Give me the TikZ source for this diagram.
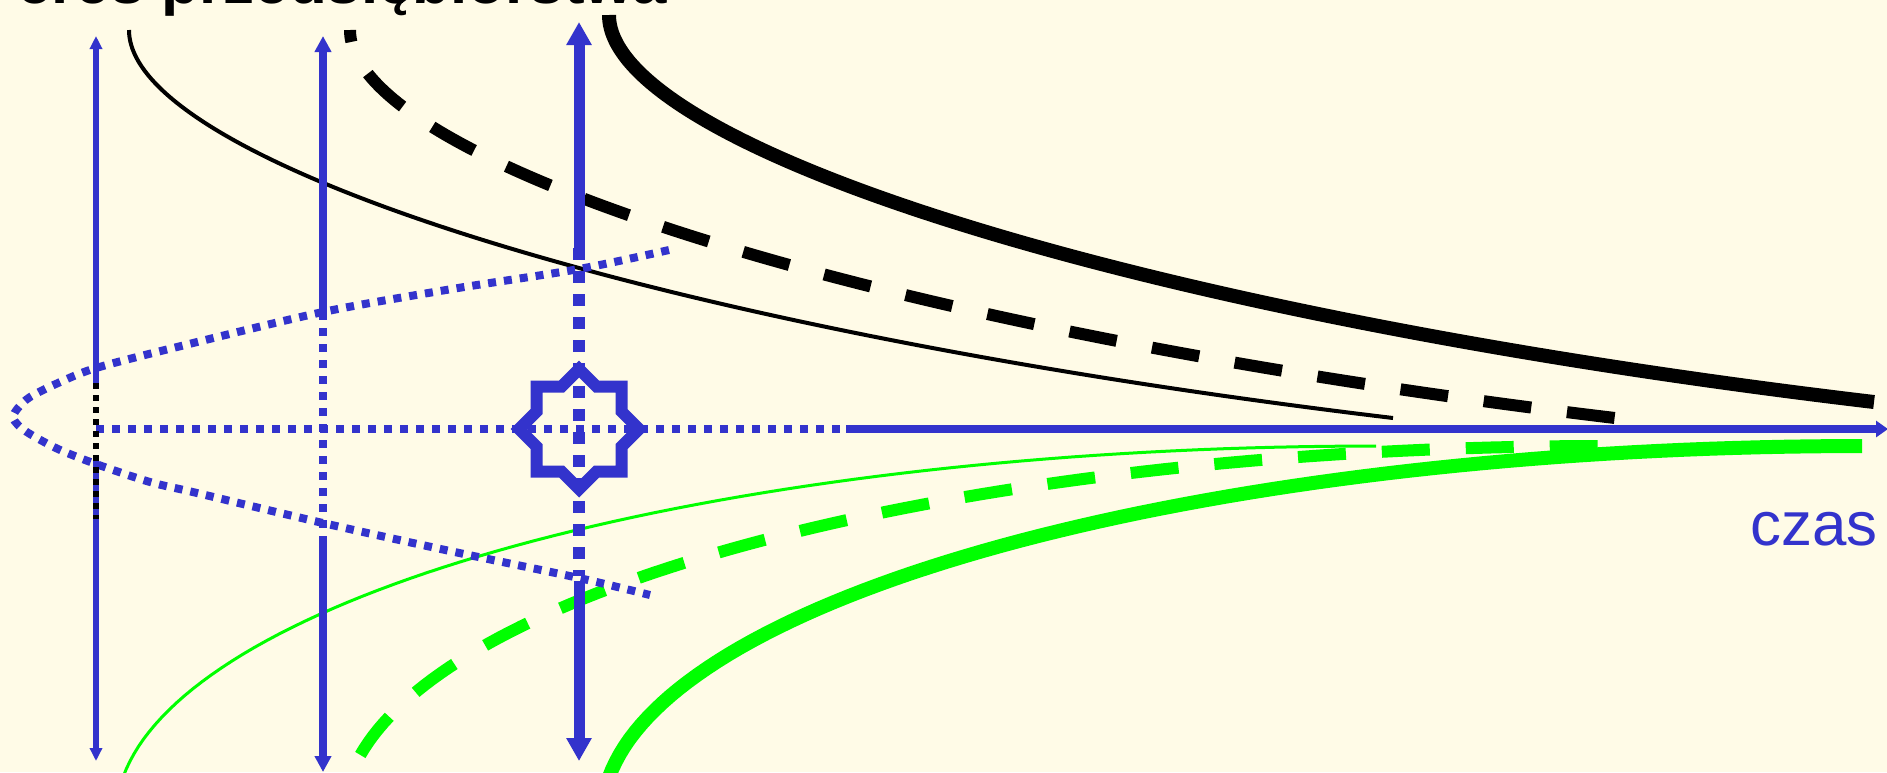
\documentclass[tikz,border=0pt]{standalone}
\usepackage{fontspec}
\setmainfont{Liberation Sans}
\usepackage{xcolor}
\usetikzlibrary{arrows.meta}
\definecolor{paper}{RGB}{255,251,231}
\definecolor{timeblue}{RGB}{51,51,204}
\definecolor{lifegreen}{RGB}{0,255,0}

\begin{document}
\begin{tikzpicture}[x=0.1mm, y=-0.1mm, line join=miter,
    thincurve/.style={line width=0.4mm},
    dashcurve/.style={line width=1.2mm, dash pattern=on 4.8mm off 3.6mm},
    thickcurve/.style={line width=1.4mm},
    bluedots/.style={draw=timeblue, line width=#1, dash pattern=on #1 off #1},
    armS/.style={draw=timeblue, line width=0.6mm, -{Triangle[width=1.2mm,length=1.3mm]}},
    armM/.style={draw=timeblue, line width=0.8mm, -{Triangle[width=1.6mm,length=1.6mm]}},
    armL/.style={draw=timeblue, line width=1.1mm, -{Triangle[width=2.4mm,length=2.3mm]}},
    label/.style={inner sep=0pt, anchor=base east, font=\fontsize{17.6pt}{20pt}\selectfont}]
    \useasboundingbox (0,0) rectangle (1887,772);
    \fill[paper] (0,0) rectangle (1887,772);
    \clip (0,0) rectangle (1887,772);

    \node[label, font=\fontsize{17.6pt}{20pt}\selectfont\bfseries] (title) at (668,3) {eres przedsiębiorstwa};
    \node[label, text=timeblue] (czas) at (1878,545) {czas};

    % decline curves (one shape, shifted)
    \draw[thincurve] (129,30) .. controls (129,160) and (643,328) .. (1393,418);
    \draw[dashcurve, dash phase=3.6mm] (350,30) .. controls (350,160) and (864,328) .. (1615,418);
    \draw[thickcurve] (609,15) .. controls (609,145) and (1123,313) .. (1874,402);

    % growth curves (elliptic arcs)
    \draw[lifegreen, line width=0.3mm] plot[domain=92:0, samples=80, variable=\t]
      ({1376-1260*sin(\t)}, {816-370*cos(\t)});
    \draw[lifegreen, dashcurve] plot[domain=80.5:0, samples=80, variable=\t]
      ({1603-1260*sin(\t)}, {816-370*cos(\t)});
    \draw[lifegreen, thickcurve] plot[domain=92:0, samples=80, variable=\t]
      ({1862-1260*sin(\t)}, {816-370*cos(\t)});

    % horizon
    \draw[bluedots=0.8mm] plot[smooth] coordinates {(669,250) (579,269) (452,289) (323,312) (181,346)
      (96,368) (58,383) (30,397) (18,408) (13,417) (18,425) (30,434) (58,449) (96,464) (150,482)
      (197,493) (323,523) (450,551) (579,578) (650,595)};

    % time axis
    \coordinate (ax0) at (96,429);
    \coordinate (axgap) at (841,429);
    \coordinate (axsolid) at (846,429);
    \coordinate (axend) at (1888,429);
    \draw[bluedots=0.8mm] (ax0) -- (axgap);
    \draw[armM, -{Triangle[width=1.6mm,length=1.2mm]}] (axsolid) -- (axend);

    % vertical arrows
    \coordinate (a1top) at (96,36);
    \coordinate (a1brk) at (96,385);
    \coordinate (a1low) at (96,460);
    \coordinate (a1bot) at (96,761);
    \draw[armS] (a1brk) -- (a1top);
    \draw[armS] (a1low) -- (a1bot);
    \draw[black, line width=0.6mm, dash pattern=on 0.6mm off 0.6mm] (96,383) -- (96,519);

    \coordinate (a2top) at (323,36);
    \coordinate (a2brk) at (323,312);
    \coordinate (a2low) at (323,536);
    \coordinate (a2bot) at (323,772);
    \draw[armM] (a2brk) -- (a2top);
    \draw[bluedots=0.8mm] (a2brk) -- (323,528);
    \draw[armM] (a2low) -- (a2bot);

    \coordinate (a3top) at (579,22);
    \coordinate (a3brk) at (579,248);
    \coordinate (a3low) at (579,581);
    \coordinate (a3bot) at (579,761);
    \draw[armL] (a3brk) -- (a3top);
    \draw[bluedots=1.15mm] (a3brk) -- (579,576);
    \draw[armL] (a3low) -- (a3bot);

    % star
    \coordinate (star) at (579,429);
    \draw[timeblue, line width=1.2mm, shift={(star)}] (0,-60) -- (17.5,-42.5) -- (42.5,-42.5) -- (42.5,-17.5)
      -- (60,0) -- (42.5,17.5) -- (42.5,42.5) -- (17.5,42.5) -- (0,60) -- (-17.5,42.5) -- (-42.5,42.5)
      -- (-42.5,17.5) -- (-60,0) -- (-42.5,-17.5) -- (-42.5,-42.5) -- (-17.5,-42.5) -- cycle;
\end{tikzpicture}
\end{document}
